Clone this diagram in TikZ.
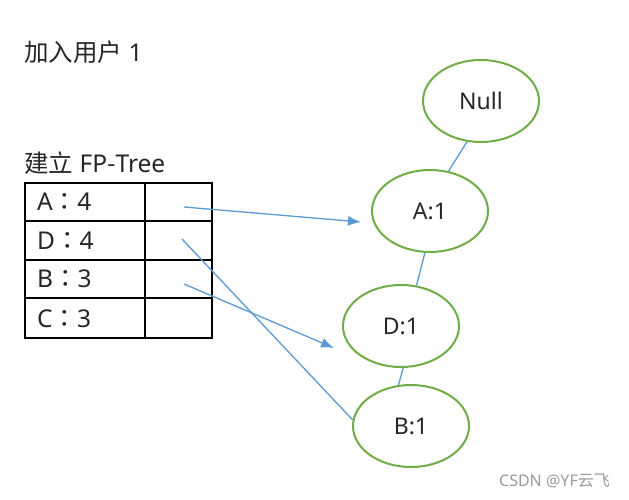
\documentclass[tikz,border=0pt]{standalone}
\usepackage{fontspec}
\setmainfont{Noto Sans}
\newfontfamily\cjk{Noto Sans CJK SC}
\newfontfamily\cjktc{Noto Sans CJK TC}
\usetikzlibrary{shapes.geometric,arrows.meta}
\definecolor{treegreen}{RGB}{112,173,71}
\definecolor{linkblue}{RGB}{91,155,213}
\definecolor{txt}{RGB}{38,38,38}
\begin{document}
\begin{tikzpicture}[x=1pt,y=-1pt,
  treenode/.style={draw=treegreen,line width=2pt,ellipse,minimum width=116pt,minimum height=82pt,inner sep=0pt,text=txt,font=\fontsize{23}{27}\selectfont},
  treelink/.style={draw=linkblue,line width=1.3pt},
  ptr/.style={draw=linkblue,line width=1.3pt,-{Latex[length=13pt,width=10pt]}},
  label/.style={anchor=west,inner sep=0pt,text=txt,font=\fontsize{24.5}{28}\selectfont},
  cell/.style={draw=black,line width=1.5pt}]
\useasboundingbox (0,0) rectangle (629,500);
% titles
\node[label] (t1) at (24,52) {{\cjk 加入用户} 1};
\node[label] (t2) at (24,163) {{\cjk 建立} FP{\cjk -}Tree};
% table
\draw[cell] (25,183) rectangle (212,338);
\draw[cell] (145,183) -- (145,338);
\draw[cell] (25,221) -- (212,221);
\draw[cell] (25,260) -- (212,260);
\draw[cell] (25,298) -- (212,298);
\node[label] (ra) at (37,202) {A{\cjktc ：}4};
\node[label] (rd) at (37,241) {D{\cjktc ：}4};
\node[label] (rb) at (37,279) {B{\cjktc ：}3};
\node[label] (rc) at (37,319) {C{\cjktc ：}3};
% tree
\node[treenode] (null) at (481,101) {Null};
\node[treenode] (a) at (430,211) {A:1};
\node[treenode] (d) at (401,326) {D:1};
\node[treenode] (b) at (411,426) {B:1};
\draw[treelink] (null.251) -- (a.65);
\draw[treelink] (a.263) -- (d.69);
\draw[treelink] (d.273) -- (b.107);
% pointers
\coordinate (pa) at (184,207);
\coordinate (pd) at (182,239);
\coordinate (pb) at (184,284);
\coordinate (ta) at (361,222);
\coordinate (tb) at (334,348);
\draw[ptr] (pa) -- (ta);
\draw[ptr] (pb) -- (tb);
\draw[treelink] (pd) -- (b.174);
% watermark
\node[anchor=east,inner sep=0pt,text=black!40,font=\fontsize{16}{18}\selectfont] (wm) at (610,481) {CSDN @YF{\cjk 云飞}};
\end{tikzpicture}
\end{document}
